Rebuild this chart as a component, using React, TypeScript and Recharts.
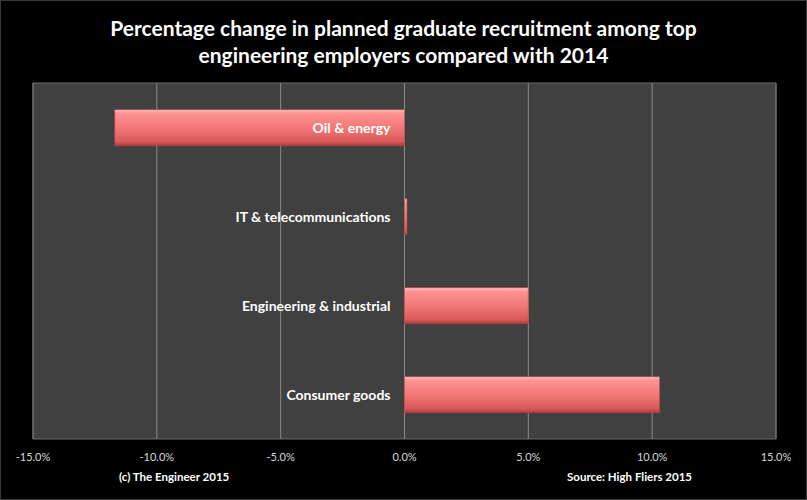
import { Bar, BarChart, CartesianGrid, LabelList, ReferenceArea, XAxis, YAxis } from "recharts";

// sectors, top to bottom
const sectors = ["Oil & energy", "IT & telecommunications", "Engineering & industrial", "Consumer goods"];
// change vs 2014 (fraction)
const changes = [-0.117, 0.001, 0.05, 0.103];
const xTicks = [-0.15, -0.1, -0.05, 0, 0.05, 0.1, 0.15];

const titleLines = [
  "Percentage change in planned graduate recruitment among top",
  "engineering employers compared with 2014",
];
const credit = "(c) The Engineer 2015";
const source = "Source: High Fliers 2015";

const data = sectors.map((name, i) => ({ name, value: changes[i] }));

const FONT = "Lato, 'Open Sans', sans-serif";

const pct = (v: number) => `${(v * 100).toFixed(1)}%`;

function SectorLabel(props: any) {
  const { x, y, width, height, value, index } = props;
  // label sits just left of the zero line
  const zeroX = value < 0 && width > 0 ? x + width : x;
  return (
    <text
      x={zeroX - 14}
      y={y + height / 2}
      textAnchor="end"
      dominantBaseline="central"
      fill="#ffffff"
      fontFamily={FONT}
      fontWeight={700}
      fontSize={14}
    >
      {sectors[index]}
    </text>
  );
}

export default function App() {
  return (
    <div
      style={{
        position: "absolute",
        left: 0,
        top: 0,
        width: 807,
        height: 500,
        background: "#000",
        boxSizing: "border-box",
        border: "1px solid #3a3a3a",
        fontFamily: FONT,
      }}
    >
      <div
        style={{
          position: "absolute",
          top: 13,
          left: 0,
          width: 805,
          textAlign: "center",
          color: "#fff",
          fontWeight: 700,
          fontSize: 21,
          lineHeight: "27px",
        }}
      >
        {titleLines.map((t) => (
          <div key={t}>{t}</div>
        ))}
      </div>
      <BarChart
        width={805}
        height={498}
        data={data}
        layout="vertical"
        barCategoryGap="30%"
        margin={{ top: 82, right: 30, left: 32, bottom: 30 }}
        style={{ position: "absolute", left: 0, top: 0 }}
      >
        <defs>
          <linearGradient id="barFill" x1="0" y1="0" x2="0" y2="1">
            <stop offset="0%" stopColor="#ffc4c4" />
            <stop offset="10%" stopColor="#ff9393" />
            <stop offset="55%" stopColor="#f07474" />
            <stop offset="90%" stopColor="#d85656" />
            <stop offset="100%" stopColor="#a83c3c" />
          </linearGradient>
        </defs>
        <CartesianGrid fill="#404040" horizontal={false} stroke="#8a8a8a" strokeWidth={1} />
        <XAxis
          type="number"
          dataKey="value"
          domain={[-0.15, 0.15]}
          ticks={xTicks}
          tickFormatter={pct}
          axisLine={false}
          tickLine={false}
          tickMargin={8}
          interval={0}
          tick={{ fill: "#d9d9d9", fontSize: 11, fontFamily: FONT }}
        />
        <YAxis type="category" dataKey="name" hide />
        <ReferenceArea x1={-0.15} x2={0.15} fill="none" stroke="#6a6a6a" strokeWidth={1} />
        <Bar dataKey="value" fill="url(#barFill)" stroke="#b84646" strokeWidth={0.6} isAnimationActive={false}>
          <LabelList dataKey="value" content={<SectorLabel />} />
        </Bar>
      </BarChart>
      <div style={{ position: "absolute", top: 469, left: 118, color: "#fff", fontWeight: 700, fontSize: 11.5 }}>
        {credit}
      </div>
      <div style={{ position: "absolute", top: 469, left: 566, color: "#fff", fontWeight: 700, fontSize: 11.5 }}>
        {source}
      </div>
    </div>
  );
}
